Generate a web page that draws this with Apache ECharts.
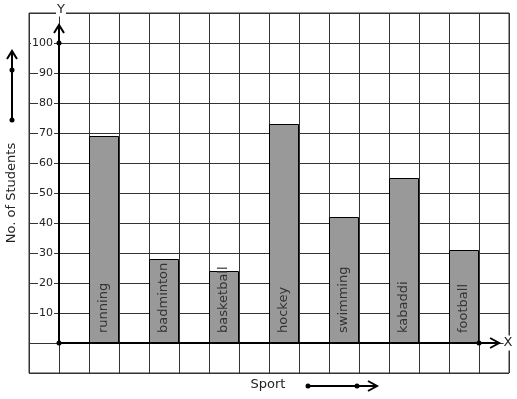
<!DOCTYPE html>
<html lang="en">

<head>
    <meta charset="UTF-8">
    <title>Sports bar graph</title>
    <script src="https://cdn.jsdelivr.net/npm/echarts@6.0.0/dist/echarts.min.js"></script>
    <style>
        body { margin: 0; background: #fff; }
    </style>
</head>

<body>
    <div id="main" style="width: 517px;height:399px;"></div>
    <script type="text/javascript">
        // data
        const sports = ['running', 'badminton', 'basketball', 'hockey', 'swimming', 'kabaddi', 'football'];
        const students = [69, 28, 24, 73, 42, 55, 31];
        const yTicks = [10, 20, 30, 40, 50, 60, 70, 80, 90, 100];

        const font = 'DejaVu Sans';
        const lineCol = '#333';

        let myChart = echarts.init(document.getElementById('main'));

        // each bar sits in every second grid cell, starting at the second one
        const barData = students.map((v, i) => [2 * i + 1.5, v]);

        let options = {
            animation: false,
            textStyle: { fontFamily: font },
            grid: {
                left: 29, right: 8, top: 13, bottom: 26,
                outerBoundsMode: 'none',
                containLabel: false,
                show: true, borderColor: lineCol, borderWidth: 1
            },
            xAxis: {
                type: 'value', min: -1, max: 15, interval: 1,
                axisLine: { show: false, onZero: false },
                axisTick: { show: false },
                axisLabel: { show: false },
                splitLine: { show: true, lineStyle: { color: lineCol, width: 1 } }
            },
            yAxis: {
                type: 'value', min: -10, max: 110, interval: 10,
                // pulled one cell inward so the labels sit just left of the drawn y axis
                position: 'left',
                offset: -30,
                axisLine: { show: false, onZero: false },
                axisTick: { show: false },
                axisLabel: {
                    margin: 5,
                    fontSize: 11,
                    color: '#222',
                    backgroundColor: '#fff',
                    padding: [0, 1],
                    formatter: v => yTicks.includes(v) ? String(v) : ''
                },
                splitLine: { show: true, lineStyle: { color: lineCol, width: 1 } }
            },
            series: [{
                type: 'bar',
                data: barData,
                barWidth: 30,
                itemStyle: { color: '#999', borderColor: '#000', borderWidth: 1 },
                label: {
                    show: true,
                    position: 'insideBottom',
                    distance: 10,
                    rotate: 90,
                    align: 'left',
                    verticalAlign: 'middle',
                    fontSize: 13,
                    color: '#333',
                    formatter: p => sports[p.dataIndex]
                }
            }]
        };
        myChart.setOption(options);

        // axes with arrows and dots, placed through the chart's own scales
        const px = (x, y) => myChart.convertToPixel({ gridIndex: 0 }, [x, y]);
        const o = px(0, 0);
        const yTop = px(0, 106);
        const xEnd = px(14.67, 0);
        const y100 = px(0, 100);
        const xLast = px(14, 0);
        const black = { stroke: '#000', lineWidth: 2 };
        const dot = (p) => ({ type: 'circle', shape: { cx: p[0], cy: p[1], r: 2.5 }, style: { fill: '#000' }, z: 20 });
        const chevronUp = (x, y) => ({ type: 'polyline', shape: { points: [[x - 5, y + 8], [x, y], [x + 5, y + 8]] }, style: { stroke: '#000', lineWidth: 2, fill: null }, z: 20 });
        const chevronRight = (x, y) => ({ type: 'polyline', shape: { points: [[x - 9, y - 5], [x, y], [x - 9, y + 5]] }, style: { stroke: '#000', lineWidth: 2, fill: null }, z: 20 });

        myChart.setOption({
            graphic: [
                { type: 'line', shape: { x1: o[0], y1: o[1], x2: yTop[0], y2: yTop[1] }, style: black, z: 20 },
                chevronUp(yTop[0], yTop[1]),
                { type: 'line', shape: { x1: o[0], y1: o[1], x2: xEnd[0], y2: xEnd[1] }, style: black, z: 20 },
                chevronRight(xEnd[0], xEnd[1]),
                dot(o), dot(y100), dot(xLast),
                {
                    type: 'text', x: yTop[0] + 2, y: 10, z: 20,
                    style: { text: 'Y', font: '13px ' + font, fill: '#222', align: 'center', verticalAlign: 'middle', backgroundColor: '#fff', padding: [0, 1] }
                },
                {
                    type: 'text', x: 508, y: o[1], z: 20,
                    style: { text: 'X', font: '13px ' + font, fill: '#222', align: 'center', verticalAlign: 'middle', backgroundColor: '#fff', padding: [1, 0] }
                },
                // y axis name with its arrow
                {
                    type: 'text', x: 12, y: 193, rotation: Math.PI / 2, z: 20,
                    style: { text: 'No. of Students', font: '13px ' + font, fill: '#222', align: 'center', verticalAlign: 'middle' }
                },
                { type: 'line', shape: { x1: 12, y1: 120, x2: 12, y2: 51 }, style: black, z: 20 },
                chevronUp(12, 51),
                dot([12, 120]), dot([12, 70]),
                // x axis name with its arrow
                {
                    type: 'text', x: 268, y: 385, z: 20,
                    style: { text: 'Sport', font: '13px ' + font, fill: '#222', align: 'center', verticalAlign: 'middle' }
                },
                { type: 'line', shape: { x1: 308, y1: 386, x2: 377, y2: 386 }, style: black, z: 20 },
                chevronRight(377, 386),
                dot([308, 386]), dot([357, 386])
            ]
        });
    </script>
</body>

</html>
